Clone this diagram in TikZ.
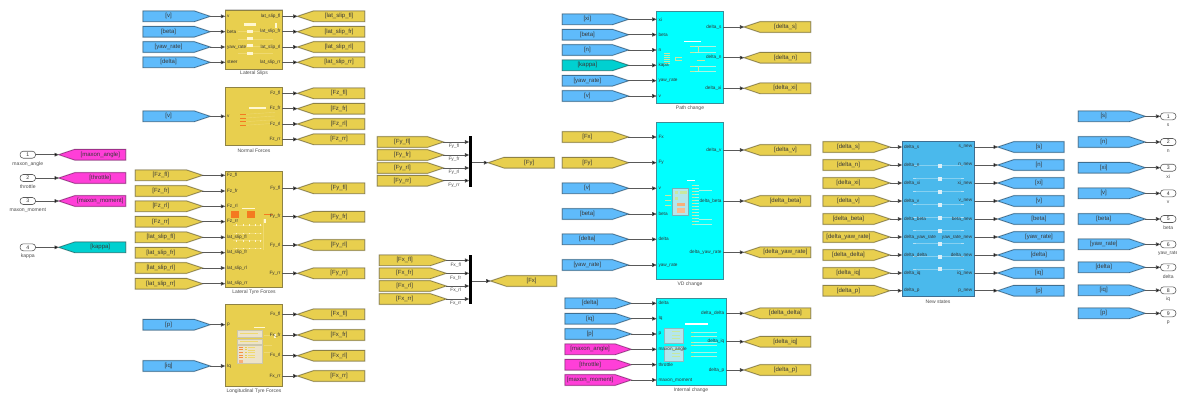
\documentclass[tikz,border=0pt]{standalone}
\usepackage{fontspec}
\setmainfont{Liberation Sans}
\usetikzlibrary{arrows.meta,shapes.symbols}
\catcode`\_=12
\definecolor{ylw}{HTML}{E8CF4E}
\definecolor{blu}{HTML}{5FBBFB}
\definecolor{mag}{HTML}{FF3FD8}
\definecolor{tea}{HTML}{00D0D0}
\definecolor{cyn}{HTML}{00FFFF}
\definecolor{nsb}{HTML}{4AB9EC}
\definecolor{ylwE}{HTML}{8E8244}
\definecolor{bluE}{HTML}{3E6F92}
\definecolor{magE}{HTML}{A0308A}
\definecolor{teaE}{HTML}{1E8080}
\definecolor{cynE}{HTML}{3E8C96}
\definecolor{thw}{HTML}{FFF7D0}
\definecolor{pal}{HTML}{EFD970}
\definecolor{org}{HTML}{F47A20}
\definecolor{bge}{HTML}{EDE3C8}
\definecolor{cpal}{HTML}{A8F5E0}
\definecolor{cyy}{HTML}{C8E8A0}
\definecolor{cpan}{HTML}{B4E6EC}
\definecolor{npal}{HTML}{86D0F0}
\definecolor{nsq}{HTML}{DCEFF8}
\tikzset{
  halo/.style={preaction={draw=black!18,line width=1.5}},
  tagbase/.style={signal,draw,line width=0.7,halo,inner sep=0,outer sep=0,minimum height=10.6,
    signal pointer angle=37,text=black!78,font=\fontsize{6}{7}\selectfont},
  yt/.style={tagbase,fill=ylw,draw=ylwE},
  bt/.style={tagbase,fill=blu,draw=bluE},
  mt/.style={tagbase,fill=mag,draw=magE},
  tt/.style={tagbase,fill=tea,draw=teaE},
  blockbase/.style={draw,line width=0.8,halo,inner sep=0,outer sep=0,anchor=north west},
  yblock/.style={blockbase,fill=ylw,draw=ylwE},
  cblock/.style={blockbase,fill=cyn,draw=cynE},
  nblock/.style={blockbase,fill=nsb,draw=bluE},
  portl/.style={inner sep=0,text=black!80,font=\fontsize{4.7}{6}\selectfont},
  bname/.style={inner sep=0,text=black!70,font=\fontsize{5}{6}\selectfont},
  wire/.style={draw=black!65,line width=0.7,-{Triangle[length=4.5pt,width=3.8pt,fill=black]}},
  iop/.style={draw=black!65,fill=white,rounded corners=3.2,line width=0.6,inner sep=0,outer sep=0,
    minimum width=15.5,minimum height=7,text=black!80,font=\fontsize{5.2}{6}\selectfont},
  muxbar/.style={fill=black,inner sep=0,outer sep=0,minimum width=2.8},
}
% style, id, x-left, x-right, y, text, block, port label
\newcommand\InPort[8]{%
  \node[#1,signal to=east,anchor=west,minimum width={#4-#3}] (#2) at (#3,#5) {#6};
  \draw[wire] (#2.east) -- (#2.east -| #7.west);
  \node[portl,anchor=west] (#2-pl) at ([xshift=1.6]#2.east -| #7.west) {#8};
}
% style, id, x-tip, x-right, y, text, block, port label
\newcommand\OutPort[8]{%
  \node[#1,signal to=west,anchor=east,minimum width={#4-#3}] (#2) at (#4,#5) {#6};
  \draw[wire] (#2.west -| #7.east) -- (#2.west);
  \node[portl,anchor=east] (#2-pl) at ([xshift=-1.6]#2.west -| #7.east) {#8};
}
\begin{document}
\begin{tikzpicture}[x=1pt,y=-1pt]
\useasboundingbox (0,0) rectangle (1177,394);

%% blocks
\node[yblock,minimum width=57,minimum height=59] (latslips) at (225.3,10) {};
\node[yblock,minimum width=57,minimum height=58.4] (normal) at (225.3,87.3) {};
\node[yblock,minimum width=57,minimum height=116] (lateral) at (225.3,171.3) {};
\node[yblock,minimum width=57,minimum height=82.4] (longit) at (225.3,304.3) {};
\node[cblock,minimum width=66.6,minimum height=92] (path) at (656.7,11.7) {};
\node[cblock,minimum width=66.6,minimum height=157] (vd) at (656.7,122.3) {};
\node[cblock,minimum width=69.3,minimum height=86.3] (internal) at (656.7,298.7) {};
\node[nblock,minimum width=71.7,minimum height=155] (newst) at (902.3,141.3) {};

%% thumbnails: Lateral Slips
\foreach \y in {31.5,38.7,45.8,53} \draw[pal,line width=0.4] (238,\y) -- (273,\y);
\fill[thw] (244.3,23.3) rectangle (256,26);
\foreach \y in {30,37.3,44.3,51.7} \fill[thw] (247.3,\y) rectangle (253.3,\y+2.8);
\fill[thw] (275,23.3) rectangle (276.7,28);
%% Normal Forces
\foreach \y in {114.3,118,121.7,125.3} {\draw[pal,line width=0.4] (245,\y) -- (275,\y-2);
  \fill[org] (240,\y-.5) rectangle (245.7,\y+.5);}
\fill[thw] (249,106.7) rectangle (265.7,108.7);
%% Lateral Tyre Forces
\foreach \y in {225,233.3,240.7,248.3} {\draw[pal,line width=0.5] (233,\y) -- (262,\y);
  \foreach \x in {236,243,249,255,260} \fill[thw] (\x,\y-.8) rectangle (\x+1.4,\y+.8);}
\draw[pal,line width=0.5] (263,219) -- (263,250);
\fill[thw] (242.3,207.7) rectangle (255,208.7);
\fill[org] (231,211.3) rectangle (239,218.3);
\fill[org] (247,211.3) rectangle (255,218.3);
\fill[org] (263.7,214) rectangle (272.7,215.3);
\fill[thw] (263.7,219.3) rectangle (265.7,222.7);
%% Longitudinal Tyre Forces
\foreach \a/\b in {330/337.3,338.7/343.7,345/363.3} \fill[bge,draw=ylwE!45,line width=0.3] (237.3,\a) rectangle (262.3,\b);
\fill[thw] (254.3,326.7) rectangle (265,327.7);
\fill[thw] (274,334) rectangle (276,338);
\foreach \y in {347,349.7,352.4,355,357.5} {\fill[org!85] (238.5,\y-.4) rectangle (243,\y+.4);
  \fill[ylw] (244.5,\y-.4) rectangle (246.5,\y+.4); \draw[pal,line width=0.4] (248,\y) -- (255,\y);}
\fill[org!60] (238.5,359.5) rectangle (243,362.5);
\draw[pal,line width=0.4] (240,333.5) -- (258,333.5) (240,341) -- (258,341);
\draw[pal,line width=0.4] (264,335) -- (272,335) (264,345) -- (272,345) (264,352) -- (272,352);
%% Path change
\fill[white] (684,41) rectangle (701,41.7);
\foreach \y in {53,55,57,59,61,63} \fill[cyy] (664,\y) rectangle (670,\y+.7);
\draw[cyy,line width=0.4] (675,57) -- (682,57) (675,60) -- (682,60) (675,57) -- (675,60);
\foreach \y in {46,52,66,71} {\fill[cyy] (690,\y) rectangle (695,\y+1);
  \draw[cpal,line width=0.4] (695,\y) -- (716,\y);}
\draw[cyy,line width=0.5] (698,46) -- (698,52) (698,66) -- (698,71);
\fill[cyy] (697,59.5) rectangle (705,60.3);
%% VD change
\fill[white] (686.7,180) rectangle (695,180.8);
\fill[cpan,draw=cynE!70,line width=0.5] (672.7,188) rectangle (688.7,215.7);
\fill[cyy] (674.5,191) rectangle (678,194);
\fill[cyy] (674.5,197) rectangle (678,200);
\fill[cyy] (680,191) rectangle (687,194);
\fill[org!60] (677,203) rectangle (685,206);
\fill[org!50] (677,208) rectangle (685,213);
\foreach \y in {185,188,191,194,197,200,203,206,209,212,215,218,221,224} {\fill[cyy] (691.7,\y) rectangle (695,\y+1);
  \draw[cpal,line width=0.3] (695,\y) -- (699,\y);}
\foreach \y in {190,219,224} \draw[cpal,line width=0.4] (699,\y) -- (712,\y);
\foreach \y in {195,200,205} \fill[cyy] (665,\y) rectangle (671,\y+1);
%% Internal change
\fill[white] (685,323.3) rectangle (707.7,324.7);
\foreach \a/\b in {328.3/342.7,346/360.7} {\fill[cpan,draw=cynE!60,line width=0.4] (663.7,\a) rectangle (682.7,\b);
  \foreach \y in {3,6.5,10} \fill[cyy] (672,\a+\y) rectangle (680,\a+\y+.8);}
\foreach \y in {332.5,336,342,345.5,352,356} {\fill[cyy] (691,\y-.4) rectangle (694,\y+.4);
  \draw[cpal,line width=0.4] (694,\y) -- (717,\y);}
%% New states
\foreach \y in {165.7,178.7,191.7,204.7,217.7,230.7,243.7,256.7,269.3}
  {\draw[npal,line width=0.5] (913,\y) -- (964,\y);
   \fill[nsq] (938,\y-2) rectangle (942,\y+2);}
\foreach \y in {178.7,191.7,204.7,217.7,230.7,243.7,256.7,269.3}
  {\fill[nsq!70!nsb] (912.7,\y-.7) rectangle (915.7,\y+.7);
   \fill[nsq!70!nsb] (960.7,\y-.7) rectangle (964,\y+.7);}

%% block titles
\node[bname] (t1) at (254,73.7) {Lateral Slips};
\node[bname] (t2) at (254,150.7) {Normal Forces};
\node[bname] (t3) at (254,292.7) {Lateral Tyre Forces};
\node[bname] (t4) at (254,391) {Longitudinal Tyre Forces};
\node[bname] (t5) at (690,108.7) {Path change};
\node[bname] (t6) at (690,284) {VD change};
\node[bname] (t7) at (691,390) {Internal change};
\node[bname] (t8) at (938,301.7) {New states};

%% Lateral Slips
\foreach \i/\y/\t/\p in {a/16.3/[v]/v,b/31.7/[beta]/beta,c/47/[yaw_rate]/yaw_rate,d/62.3/[delta]/steer}
  {\InPort{bt}{lsi\i}{143}{210}{\y}{\t}{latslips}{\p}}
\foreach \i/\y/\t/\p in {a/16.3/[lat_slip_fl]/lat_slip_fl,b/31.7/[lat_slip_fr]/lat_slip_fr,c/47/[lat_slip_rl]/lat_slip_rl,d/62.3/[lat_slip_rr]/lat_slip_rr}
  {\OutPort{yt}{lso\i}{297.7}{364.7}{\y}{\t}{latslips}{\p}}
%% Normal Forces
\InPort{bt}{nfi}{143}{210}{116.3}{[v]}{normal}{v}
\foreach \i/\y/\t/\p in {a/93.3/[Fz_fl]/Fz_fl,b/108.7/[Fz_fr]/Fz_fr,c/124/[Fz_rl]/Fz_rl,d/139.3/[Fz_rr]/Fz_rr}
  {\OutPort{yt}{nfo\i}{297.7}{364.7}{\y}{\t}{normal}{\p}}
%% Lateral Tyre Forces
\foreach \i/\y/\t/\p in {a/175.3/[Fz_fl]/Fz_fl,b/191/[Fz_fr]/Fz_fr,c/206.3/[Fz_rl]/Fz_rl,d/221.7/[Fz_rr]/Fz_rr,e/237.3/[lat_slip_fl]/lat_slip_fl,f/252.7/[lat_slip_fr]/lat_slip_fr,g/268/[lat_slip_rl]/lat_slip_rl,h/283.7/[lat_slip_rr]/lat_slip_rr}
  {\InPort{yt}{lti\i}{135.3}{202.3}{\y}{\t}{lateral}{\p}}
\foreach \i/\y/\t/\p in {a/188.3/[Fy_fl]/Fy_fl,b/216.7/[Fy_fr]/Fy_fr,c/245/[Fy_rl]/Fy_rl,d/273.3/[Fy_rr]/Fy_rr}
  {\OutPort{yt}{lto\i}{297.7}{364.7}{\y}{\t}{lateral}{\p}}
%% Longitudinal Tyre Forces
\InPort{bt}{lgia}{143}{210}{324.7}{[p]}{longit}{p}
\InPort{bt}{lgib}{143}{210}{366}{[iq]}{longit}{Iq}
\foreach \i/\y/\t/\p in {a/314.3/[Fx_fl]/Fx_fl,b/335/[Fx_fr]/Fx_fr,c/355.7/[Fx_rl]/Fx_rl,d/376/[Fx_rr]/Fx_rr}
  {\OutPort{yt}{lgo\i}{297.7}{364.7}{\y}{\t}{longit}{\p}}
%% Path change
\foreach \i/\s/\y/\t/\p in {a/bt/19.3/[xi]/xi,b/bt/34.7/[beta]/beta,c/bt/50/[n]/n,d/tt/65.3/[kappa]/kapa,e/bt/80.7/[yaw_rate]/yaw_rate,f/bt/96/[v]/v}
  {\InPort{\s}{pci\i}{562.3}{628.3}{\y}{\t}{path}{\p}}
\foreach \i/\y/\t/\p in {a/27/[delta_s]/delta_s,b/57.7/[delta_n]/delta_n,c/88.3/[delta_xi]/delta_xi}
  {\OutPort{yt}{pco\i}{744.3}{810.7}{\y}{\t}{path}{\p}}
%% VD change
\foreach \i/\s/\y/\t/\p in {a/yt/137/[Fx]/Fx,b/yt/162.7/[Fy]/Fy,c/bt/188.3/[v]/v,d/bt/214/[beta]/beta,e/bt/239.3/[delta]/delta,f/bt/265/[yaw_rate]/yaw_rate}
  {\InPort{\s}{vdi\i}{562.3}{628.3}{\y}{\t}{vd}{\p}}
\foreach \i/\y/\t/\p in {a/150/[delta_v]/delta_v,b/201/[delta_beta]/delta_beta,c/252.3/[delta_yaw_rate]/delta_yaw_rate}
  {\OutPort{yt}{vdo\i}{744.3}{810.7}{\y}{\t}{vd}{\p}}
%% Internal change
\foreach \i/\s/\y/\t/\p in {a/bt/303.3/[delta]/delta,b/bt/318.7/[iq]/Iq,c/bt/334/[p]/p,d/mt/349.3/[maxon_angle]/maxon_angle,e/mt/364.7/[throttle]/throttle,f/mt/380/[maxon_moment]/maxon_moment}
  {\InPort{\s}{ici\i}{565}{631}{\y}{\t}{internal}{\p}}
\foreach \i/\y/\t/\p in {a/313.3/[delta_delta]/delta_delta,b/341.7/[delta_iq]/delta_iq,c/370/[delta_p]/delta_p}
  {\OutPort{yt}{ico\i}{744.3}{810.7}{\y}{\t}{internal}{\p}}
%% New states
\foreach \i/\y/\t/\p in {a/147/[delta_s]/delta_s,b/165/[delta_n]/delta_n,c/183/[delta_xi]/delta_xi,d/201/[delta_v]/delta_v,e/219/[delta_beta]/delta_beta,f/237/[delta_yaw_rate]/delta_yaw_rate,g/255/[delta_delta]/delta_delta,h/273/[delta_iq]/delta_iq,j/290.7/[delta_p]/delta_p}
  {\InPort{yt}{nsi\i}{823}{889.7}{\y}{\t}{newst}{\p}}
\foreach \i/\y/\t/\p in {a/147/[s]/s_new,b/165/[n]/n_new,c/183/[xi]/xi_new,d/201/[v]/v_new,e/219/[beta]/beta_new,f/237/[yaw_rate]/yaw_rate_new,g/255/[delta]/delta_new,h/273/[iq]/iq_new,j/290.7/[p]/p_new}
  {\OutPort{bt}{nso\i}{998}{1064}{\y}{\t}{newst}{\p}}

%% Inports with goto tags
\foreach \n/\s/\y/\t in {1/mt/154.7/maxon_angle,2/mt/178/throttle,3/mt/201/maxon_moment,4/tt/247.3/kappa}{
  \node[iop] (in\n) at (27.8,\y) {\n};
  \node[bname,font=\fontsize{5.1}{6}\selectfont] (in\n-l) at (27.8,\y+9) {\t};
  \node[\s,signal to=west,anchor=east,minimum width=66.7] (ing\n) at (125.7,\y) {[\t]};
  \draw[wire] (in\n) -- (ing\n.west);
}

%% Mux Fy
\node[muxbar,minimum height=51.3,anchor=north west] (muxy) at (469.3,135.7) {};
\foreach \i/\y/\t in {a/142/fl,b/155/fr,c/168/rl,d/180.7/rr}{
  \node[yt,signal to=east,anchor=west,minimum width=66] (myi\i) at (377.3,\y) {[Fy_\t]};
  \draw[wire] (myi\i.east) -- (myi\i.east -| muxy.west);
  \node[bname,font=\fontsize{4.8}{6}\selectfont] (myl\i) at (454,\y+4.6) {Fy_\t};
}
\node[yt,signal to=west,anchor=east,minimum width=66] (myo) at (554.3,162.7) {[Fy]};
\draw[wire] (myo.west -| muxy.east) -- (myo.west);
%% Mux Fx
\node[muxbar,minimum height=49.3,anchor=north west] (muxx) at (469.3,255) {};
\foreach \i/\y/\t in {a/260.3/fl,b/273.3/fr,c/286/rl,d/299/rr}{
  \node[yt,signal to=east,anchor=west,minimum width=66.7] (mxi\i) at (379.3,\y) {[Fx_\t]};
  \draw[wire] (mxi\i.east) -- (mxi\i.east -| muxx.west);
  \node[bname,font=\fontsize{4.8}{6}\selectfont] (mxl\i) at (455.7,\y+4.6) {Fx_\t};
}
\node[yt,signal to=west,anchor=east,minimum width=66] (mxo) at (556.7,281) {[Fx]};
\draw[wire] (mxo.west -| muxx.east) -- (mxo.west);

%% Outports
\foreach \n/\y/\t in {1/116.3/s,2/142/n,3/167.7/xi,4/193.3/v,5/219/beta,6/244.3/yaw_rate,7/267.3/delta,8/290.3/iq,9/313.3/p}{
  \node[bt,signal to=east,anchor=west,minimum width=66.7] (outg\n) at (1078.3,\y) {[\t]};
  \node[iop] (out\n) at (1168.2,\y) {\n};
  \draw[wire] (outg\n.east) -- (out\n.west);
  \node[bname] (out\n-l) at (1168.2,\y+9) {\t};
}
\end{tikzpicture}
\end{document}
